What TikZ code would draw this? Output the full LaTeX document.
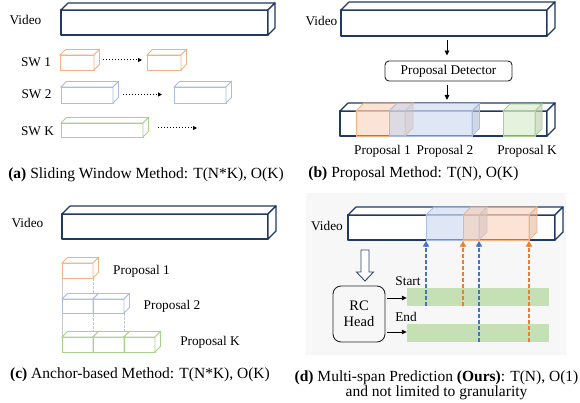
\documentclass[tikz,border=0pt]{standalone}
\usepackage{fontspec}
\setmainfont{Liberation Serif}
\usetikzlibrary{arrows.meta}

\definecolor{navy}{HTML}{203864}
\definecolor{orLine}{HTML}{F4B183}
\definecolor{orFill}{HTML}{F8CBAD}
\definecolor{blLine}{HTML}{A9BCE3}
\definecolor{blFill}{HTML}{C5D3EE}
\definecolor{grLine}{HTML}{A9D18E}
\definecolor{grFill}{HTML}{D5EBC8}
\definecolor{barGreen}{HTML}{C5E0B4}
\definecolor{arrBlue}{HTML}{4472C4}
\definecolor{arrOrange}{HTML}{ED7D31}
\definecolor{panelBg}{HTML}{F7F7F7}
\definecolor{guide}{HTML}{C8C8C8}

% \cuboid{front style}{side style}{x1}{y1}{x2}{y2}{depth}
\newcommand\cuboid[7]{%
  \path[#1] (#3,#4) rectangle (#5,#6);
  \path[#1] (#3,#4) -- (#3+#7,#4-#7) -- (#5+#7,#4-#7) -- (#5,#4) -- cycle;
  \path[#2] (#5,#4) -- (#5+#7,#4-#7) -- (#5+#7,#6-#7) -- (#5,#6) -- cycle;
}

\tikzset{
  lbl/.style={inner sep=0pt, font=\fontsize{13.3}{15}\selectfont},
  captext/.style={inner sep=0pt, font=\fontsize{15.5}{15.5}\selectfont, align=center},
  vidbox/.style={draw=navy, fill=white, line width=1.2pt, line join=round},
  orbox/.style={draw=orLine, fill=white, line width=0.8pt},
  blbox/.style={draw=blLine, fill=white, line width=0.8pt},
  grbox/.style={draw=grLine, fill=white, line width=0.8pt},
  orglass/.style={draw=orLine, fill=orFill, fill opacity=0.5, line width=0.8pt},
  orglassside/.style={draw=orLine, fill=orFill!80!gray, fill opacity=0.6, line width=0.8pt},
  blglass/.style={draw=blLine, fill=blFill, fill opacity=0.55, line width=0.8pt},
  blglassside/.style={draw=blLine, fill=blFill!80!gray, fill opacity=0.65, line width=0.8pt},
  grglass/.style={draw=grLine, fill=grFill, fill opacity=0.6, line width=0.8pt},
  grglassside/.style={draw=grLine, fill=grFill!80!gray, fill opacity=0.7, line width=0.8pt},
  slide/.style={dotted, line width=1pt, -{Triangle[length=4pt,width=4pt]}},
  flow/.style={line width=0.9pt, -{Triangle[length=5pt,width=4.5pt]}},
  roundbox/.style={draw=black!85, line width=0.9pt, rounded corners=4pt, inner sep=0pt},
  hit/.style={dash pattern=on 4pt off 2pt, line width=1.7pt, -{Triangle[length=5.5pt,width=6pt]}},
}

\begin{document}
\begin{tikzpicture}[x=1pt, y=-1pt]
\useasboundingbox (0,0) rectangle (580,403);
\fill[white] (0,0) rectangle (580,403);

% ---------------- (a) sliding windows ----------------
\node[lbl] (vidA) at (25.5,20) {Video};
\cuboid{vidbox}{vidbox}{61}{10}{268}{35}{7}

\node[lbl] (sw1) at (36,62) {SW 1};
\cuboid{orbox}{orbox}{60}{55}{94}{70}{5.5}
\cuboid{orbox}{orbox}{147}{55}{181}{70}{5.5}
\coordinate (sw1a) at (103,60);
\coordinate (sw1b) at (142,60);
\draw[slide] (sw1a) -- (sw1b);

\node[lbl] (sw2) at (36.5,94) {SW 2};
\cuboid{blbox}{blbox}{61}{87}{113}{103}{5.5}
\cuboid{blbox}{blbox}{174}{87}{226}{103}{5.5}
\coordinate (sw2a) at (123,94.5);
\coordinate (sw2b) at (162,94.5);
\draw[slide] (sw2a) -- (sw2b);

\node[lbl] (swk) at (37.5,131) {SW K};
\cuboid{grbox}{grbox}{61}{123}{143}{137}{5.5}
\coordinate (swka) at (158,128);
\coordinate (swkb) at (197,128);
\draw[slide] (swka) -- (swkb);

\node[captext] (capA) at (146,175) {\textbf{(a)} Sliding Window Method: T(N*K), O(K)};

% ---------------- (b) proposal method ----------------
\node[lbl] (vidB) at (321.5,21) {Video};
\cuboid{vidbox}{vidbox}{341}{10}{547}{36}{8}
\coordinate (vidBbot) at (447,36);

\node[roundbox, minimum width=127pt, minimum height=20pt, font=\fontsize{13.3}{15}\selectfont]
  (det) at (448.5,71) {Proposal Detector};
\coordinate (outBtop) at (447,103);
\draw[flow, shorten <=4pt, shorten >=5pt] (vidBbot) -- (det.north -| vidBbot);
\draw[flow, shorten <=4pt, shorten >=3pt] (det.south -| outBtop) -- (outBtop);

\cuboid{vidbox}{vidbox}{340}{111}{547}{136}{8}
\cuboid{orglass}{orglassside}{356}{111}{405}{136}{8}
\cuboid{blglass}{blglassside}{389}{111}{472}{136}{7.5}
\cuboid{grglass}{grglassside}{503}{111}{535}{136}{7}

\node[lbl] (pb1) at (382.5,151.5) {Proposal 1};
\node[lbl] (pb2) at (445,151.5) {Proposal 2};
\node[lbl] (pbk) at (527,151.5) {Proposal K};

\node[captext] (capB) at (413.5,174) {\textbf{(b)} Proposal Method: T(N), O(K)};

% ---------------- (c) anchor-based method ----------------
\node[lbl] (vidC) at (27.5,223) {Video};
\cuboid{vidbox}{vidbox}{62}{214}{268}{239}{8}

% anchor guide lines
\coordinate (g0a) at (62,278);  \coordinate (g0b) at (62,337);
\coordinate (g1a) at (93,278);  \coordinate (g1b) at (93,337);
\coordinate (g2a) at (124,313); \coordinate (g2b) at (124,337);
\draw[guide, line width=0.8pt] (g0a) -- (g0b);
\draw[guide, line width=0.8pt, dash pattern=on 2.5pt off 1.5pt] (g1a) -- (g1b);
\draw[guide, line width=0.8pt, dash pattern=on 2.5pt off 1.5pt] (g2a) -- (g2b);

\cuboid{orbox}{orbox}{62}{263}{93}{278}{5.5}
\cuboid{blbox}{blbox}{62}{299}{93}{313}{5.5}
\cuboid{blbox}{blbox}{93}{299}{124}{313}{5.5}
\cuboid{grbox}{grbox}{62}{337}{93}{352}{5.5}
\cuboid{grbox}{grbox}{93}{337}{124}{352}{5.5}
\cuboid{grbox}{grbox}{124}{337}{155}{352}{5.5}

\node[lbl] (pc1) at (141.5,271) {Proposal 1};
\node[lbl] (pc2) at (172,306.5) {Proposal 2};
\node[lbl] (pck) at (210,342) {Proposal K};

\node[captext] (capC) at (140,375) {\textbf{(c)} Anchor-based Method: T(N*K), O(K)};

% ---------------- (d) multi-span prediction ----------------
\fill[panelBg] (306,193) rectangle (566,355);

\node[lbl] (vidD) at (327,226) {Video};
\cuboid{vidbox}{vidbox}{348}{215}{555}{240}{8}
\cuboid{blglass}{blglassside}{426}{215}{479}{240}{8}
\cuboid{orglass}{orglassside}{463}{215}{529}{240}{8}

% hollow arrow down to the head
\path[draw=navy!80!gray, fill=white, line width=0.9pt, line join=miter]
  (361,250) -- (369,250) -- (369,272) -- (373.5,272) -- (365,281)
  -- (356.5,272) -- (361,272) -- cycle;

\node[roundbox, rounded corners=8pt, minimum width=52pt, minimum height=56pt,
  align=center, font=\fontsize{14.5}{16.5}\selectfont] (rc) at (359,314) {RC\\Head};

\node[lbl] (startL) at (408,281) {Start};
\node[lbl] (endL) at (406,317) {End};

\node[fill=barGreen, inner sep=0pt, minimum width=142pt, minimum height=18pt] (sbar) at (478,297) {};
\node[fill=barGreen, inner sep=0pt, minimum width=142pt, minimum height=18pt] (ebar) at (478,333) {};

\draw[flow, shorten <=2pt] (rc.east |- 0,298) -- (sbar.west |- 0,298);
\draw[flow, shorten <=2pt] (rc.east |- 0,332) -- (ebar.west |- 0,332);

% predicted boundaries pointing back to the video
\coordinate (vb1) at (426,241);
\coordinate (vo1) at (463,241);
\coordinate (vb2) at (479,241);
\coordinate (vo2) at (529,241);
\draw[hit, arrBlue]   (sbar.south -| vb1) -- (vb1);
\draw[hit, arrOrange] (sbar.south -| vo1) -- (vo1);
\draw[hit, arrBlue]   (ebar.south -| vb2) -- (vb2);
\draw[hit, arrOrange] (ebar.south -| vo2) -- (vo2);

\node[captext] (capD) at (436.5,385.5)
  {\textbf{(d)} Multi-span Prediction \textbf{(Ours)}: T(N), O(1)\\and not limited to granularity};
\end{tikzpicture}
\end{document}
